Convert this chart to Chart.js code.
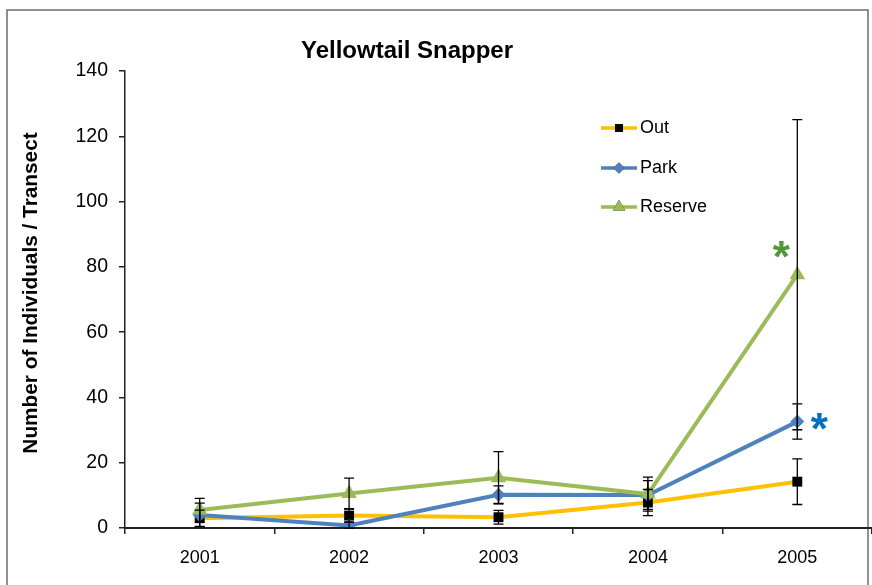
<!DOCTYPE html>
<html>
<head>
<meta charset="utf-8">
<script src="https://cdn.jsdelivr.net/npm/chart.js@4"></script>
<style>
html,body{margin:0;padding:0;background:#fff;}
#wrap{width:872px;height:585px;position:relative;}
</style>
</head>
<body>
<div id="wrap"><canvas id="c" width="872" height="585"></canvas></div>
<script>
const chartTitle = 'Yellowtail Snapper';
const yAxisTitle = 'Number of Individuals / Transect';
const years = ['2001', '2002', '2003', '2004', '2005'];
const seriesNames = ['Out', 'Park', 'Reserve'];
const outValues = [3.0, 3.8, 3.3, 7.8, 14.2];
const parkValues = [4.0, 0.8, 10.2, 10.1, 32.6];
const reserveValues = [5.5, 10.6, 15.4, 10.4, 77.6];
const outErrors = [2.5, 2.0, 2.1, 4.0, 7.0];
const parkErrors = [3.6, 1.0, 2.7, 4.4, 5.4];
const reserveErrors = [3.6, 4.7, 8.0, 5.2, 47.5];
const yMin = 0, yMax = 140, yStep = 20;
const markers = [
  {dataset: 2, index: 4, text: '*', color: '#4E9A3A', dx: -16, dy: -28},
  {dataset: 1, index: 4, text: '*', color: '#0070C0', dx: 22, dy: -3}
];

const FONT = 'Arial, "Liberation Sans", sans-serif';
const errorSets = [outErrors, parkErrors, reserveErrors];

const errorBarPlugin = {
  id: 'errorBars',
  afterDatasetsDraw(chart) {
    const ctx = chart.ctx;
    const xs = chart.scales.x, ys = chart.scales.y;
    ctx.save();
    ctx.strokeStyle = '#000';
    ctx.lineWidth = 1.3;
    chart.data.datasets.forEach((ds, di) => {
      ds.data.forEach((v, i) => {
        const e = errorSets[di][i];
        const x = xs.getPixelForValue(i);
        const yt = ys.getPixelForValue(v + e);
        const yb = ys.getPixelForValue(Math.max(yMin, v - e));
        ctx.beginPath();
        ctx.moveTo(x, yt); ctx.lineTo(x, yb);
        ctx.moveTo(x - 5, yt); ctx.lineTo(x + 5, yt);
        ctx.moveTo(x - 5, yb); ctx.lineTo(x + 5, yb);
        ctx.stroke();
      });
    });
    ctx.restore();
  }
};

const decorPlugin = {
  id: 'decor',
  beforeDraw(chart) {
    const ctx = chart.ctx;
    ctx.save();
    ctx.fillStyle = '#fff';
    ctx.fillRect(0, 0, chart.width, chart.height);
    ctx.strokeStyle = '#6e6e6e';
    ctx.lineWidth = 1.5;
    ctx.strokeRect(7, 10, 861, 600);
    ctx.restore();
  },
  afterDraw(chart) {
    const ctx = chart.ctx;
    const xs = chart.scales.x, ys = chart.scales.y;
    ctx.save();
    // title
    ctx.fillStyle = '#000';
    ctx.font = 'bold 24px ' + FONT;
    ctx.textAlign = 'center';
    ctx.textBaseline = 'middle';
    ctx.fillText(chartTitle, 407, 51);
    // y axis title
    ctx.save();
    ctx.translate(31, 293);
    ctx.rotate(-Math.PI / 2);
    ctx.font = 'bold 20.8px ' + FONT;
    ctx.fillText(yAxisTitle, 0, 0);
    ctx.restore();
    // legend
    const legY = [128, 168, 207];
    chart.data.datasets.forEach((ds, di) => {
      const y = legY[di];
      ctx.strokeStyle = ds.borderColor;
      ctx.lineWidth = 3.5;
      ctx.beginPath();
      ctx.moveTo(601, y); ctx.lineTo(637, y);
      ctx.stroke();
      Chart.helpers.drawPoint(ctx, {
        pointStyle: ds.pointStyle,
        radius: ds.pointRadius * 0.8,
        rotation: 0,
        borderWidth: 0
      }, 619, y);
      ctx.fillStyle = ds.pointBackgroundColor;
      ctx.fill();
      ctx.fillStyle = '#000';
      ctx.font = '18px ' + FONT;
      ctx.textAlign = 'left';
      ctx.textBaseline = 'middle';
      ctx.fillText(ds.label, 640, y);
    });
    // significance asterisks
    markers.forEach(m => {
      const v = chart.data.datasets[m.dataset].data[m.index];
      const x = xs.getPixelForValue(m.index) + m.dx;
      const y = ys.getPixelForValue(v) + m.dy;
      ctx.fillStyle = m.color;
      ctx.font = 'bold 44px ' + FONT;
      ctx.textAlign = 'center';
      ctx.textBaseline = 'alphabetic';
      ctx.fillText(m.text, x, y + 25);
    });
    ctx.restore();
  }
};

new Chart(document.getElementById('c'), {
  type: 'line',
  data: {
    labels: years,
    datasets: [
      {label: seriesNames[0], data: outValues, borderColor: '#FFC000', backgroundColor: '#000',
       pointStyle: 'rect', pointRadius: 7, pointBackgroundColor: '#000', pointBorderWidth: 0,
       borderWidth: 4, order: 3, tension: 0},
      {label: seriesNames[1], data: parkValues, borderColor: '#4F81BD', backgroundColor: '#4F81BD',
       pointStyle: 'rectRot', pointRadius: 7, pointBackgroundColor: '#4F81BD', pointBorderWidth: 0,
       borderWidth: 4, order: 2, tension: 0},
      {label: seriesNames[2], data: reserveValues, borderColor: '#9BBB59', backgroundColor: '#9BBB59',
       pointStyle: 'triangle', pointRadius: 9, pointBackgroundColor: '#9BBB59', pointBorderWidth: 0,
       borderWidth: 4, order: 1, tension: 0}
    ]
  },
  options: {
    responsive: false,
    animation: false,
    layout: {autoPadding: false, padding: {top: 71, left: 0, right: 0, bottom: 0}},
    plugins: {legend: {display: false}, title: {display: false}, tooltip: {enabled: false}},
    scales: {
      x: {
        type: 'category',
        offset: true,
        grid: {display: true, offset: true, drawOnChartArea: false, drawTicks: true, tickLength: 6, color: '#222', lineWidth: 1.5},
        border: {display: true, color: '#222', width: 2},
        ticks: {color: '#000', font: {family: FONT, size: 18}, padding: 13, maxRotation: 0},
        afterFit(s) { s.height = 57; s.paddingLeft = 0; s.paddingRight = 0; }
      },
      y: {
        min: yMin, max: yMax,
        grid: {display: true, drawOnChartArea: false, drawTicks: true, tickLength: 6, color: '#222', lineWidth: 1.5},
        border: {display: true, color: '#222', width: 1.5},
        ticks: {stepSize: yStep, color: '#000', font: {family: FONT, size: 19.5}, padding: 11},
        afterFit(s) { s.width = 125; s.paddingTop = 0; s.paddingBottom = 0; }
      }
    }
  },
  plugins: [decorPlugin, errorBarPlugin]
});
</script>
</body>
</html>
